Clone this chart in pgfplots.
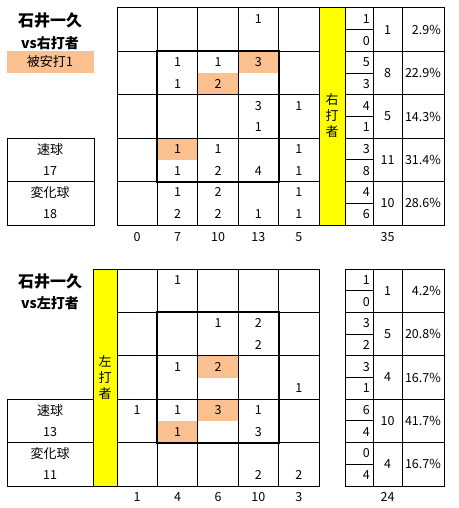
\documentclass[border=0pt]{standalone}
\usepackage{fontspec}
\setmainfont{Noto Sans CJK JP}
\usepackage{pgfplots}
\usepackage{pgfplotstable}
\pgfplotsset{compat=1.18}

\definecolor{hit}{HTML}{FAC090}
\definecolor{bar}{HTML}{FFFF00}
\newcommand\numfont{\fontsize{12.5}{14}\selectfont}

% cells: c = column (0..4), r = half row (0..9), v = count
\pgfplotstableread{
c r v
3 0 1
1 2 1
1 3 1
2 2 1
2 3 2
3 2 3
3 4 3
3 5 1
4 4 1
1 6 1
1 7 1
2 6 1
2 7 2
3 7 4
4 6 1
4 7 1
1 8 1
1 9 2
2 8 2
2 9 2
3 9 1
4 8 1
4 9 1
}\rightcells

\pgfplotstableread{
c r v
1 0 1
2 2 1
3 2 2
3 3 2
1 4 1
2 4 2
4 5 1
0 6 1
1 6 1
1 7 1
2 6 3
3 6 1
3 7 3
3 9 2
4 9 2
}\leftcells

% summary per row: upper, lower, total, percent
\pgfplotstableread{
k a b t p
0 1 0 1 2.9
1 5 3 8 22.9
2 4 1 5 14.3
3 3 8 11 31.4
4 4 6 10 28.6
}\rightsum

\pgfplotstableread{
k a b t p
0 1 0 1 4.2
1 3 2 5 20.8
2 3 1 4 16.7
3 6 4 10 41.7
4 0 4 4 16.7
}\leftsum

% column totals
\pgfplotstableread{
c v w
0 0 1
1 7 4
2 10 6
3 13 10
4 5 3
}\coltot

\pgfplotsset{
  lbl/.style={draw=none, mark=none, nodes near coords, point meta=explicit symbolic,
    nodes near coords align={#1},
    every node near coord/.append style={font=\numfont, inner sep=0pt, text=black}},
  lbl/.default=center,
}

% grid frame at vertical origin #1
\newcommand\gridframe[1]{%
  \pgfplotsinvokeforeach{1,...,4}{
    \draw[line width=1pt] (axis cs:117+40.4*##1,#1) -- (axis cs:117+40.4*##1,#1+217);
    \draw[line width=1pt] (axis cs:117,#1+43.4*##1) -- (axis cs:319,#1+43.4*##1);
    \draw[line width=1pt] (axis cs:345,#1+43.4*##1) -- (axis cs:444,#1+43.4*##1);
  }
  \pgfplotsinvokeforeach{0,...,4}{
    \draw[line width=1pt] (axis cs:345,#1+21.7+43.4*##1) -- (axis cs:373,#1+21.7+43.4*##1);
  }
  \draw[line width=1pt] (axis cs:117,#1) rectangle (axis cs:319,#1+217);
  \draw[line width=1pt] (axis cs:345,#1) rectangle (axis cs:444,#1+217);
  \draw[line width=1pt] (axis cs:373,#1) -- (axis cs:373,#1+217);
  \draw[line width=1pt] (axis cs:402,#1) -- (axis cs:402,#1+217);
  \draw[line width=2pt] (axis cs:157.4,#1+43.4) rectangle (axis cs:278.6,#1+173.6);
}

\begin{document}
\begin{tikzpicture}
\begin{axis}[
    width=458pt, height=508pt, scale only axis,
    xmin=0, xmax=458, ymin=0, ymax=508,
    y dir=reverse, hide axis, clip=false,
]
\path (axis cs:0,0) rectangle (axis cs:458,508);

% ---- vs right-handed batters
\fill[hit] (axis cs:7,51.4) rectangle (axis cs:94,73);
\fill[hit] (axis cs:238.2,51.4) rectangle (axis cs:278.6,73.1);
\fill[hit] (axis cs:197.8,73.1) rectangle (axis cs:238.2,94.8);
\fill[hit] (axis cs:157.4,138.2) rectangle (axis cs:197.8,159.9);
\filldraw[fill=bar, line width=1pt] (axis cs:319,8) rectangle (axis cs:345,225);
\gridframe{8}
\draw[line width=1pt] (axis cs:7,138.2) rectangle (axis cs:94,225);
\draw[line width=1pt] (axis cs:7,181.6) -- (axis cs:94,181.6);

\node[font=\bfseries\fontsize{16}{18}\selectfont] at (axis cs:50,20) {石井一久};
\node[font=\bfseries\fontsize{14}{16}\selectfont] at (axis cs:50,43) {vs右打者};
\node[font=\fontsize{13}{15}\selectfont] at (axis cs:50,62) {被安打1};
\node[font=\fontsize{13}{15}\selectfont] at (axis cs:50,149.5) {速球};
\node[font=\numfont] at (axis cs:50,171) {17};
\node[font=\fontsize{13}{15}\selectfont] at (axis cs:50,193) {変化球};
\node[font=\numfont] at (axis cs:50,214.5) {18};
\node[font=\fontsize{13}{16}\selectfont, align=center] at (axis cs:332,116) {右\\打\\者};

\addplot[lbl] table[x expr=137.2+40.4*\thisrow{c}, y expr=18.85+21.7*\thisrow{r}, meta=v] \rightcells;
\addplot[lbl=east] table[x expr=370, y expr=18.85+43.4*\thisrow{k}, meta=a] \rightsum;
\addplot[lbl=east] table[x expr=370, y expr=40.55+43.4*\thisrow{k}, meta=b] \rightsum;
\addplot[lbl] table[x expr=387.5, y expr=29.7+43.4*\thisrow{k}, meta=t] \rightsum;
\addplot[lbl=east, nodes near coords={\pgfplotspointmeta\%}] table[x expr=441, y expr=29.7+43.4*\thisrow{k}, meta=p] \rightsum;
\addplot[lbl] table[x expr=137.2+40.4*\thisrow{c}, y expr=237, meta=v] \coltot;
\addplot[lbl] coordinates {(387.5,237) [35]};

% ---- vs left-handed batters
\fill[hit] (axis cs:197.8,355.8) rectangle (axis cs:238.2,377.5);
\fill[hit] (axis cs:197.8,399.2) rectangle (axis cs:238.2,420.9);
\fill[hit] (axis cs:157.4,420.9) rectangle (axis cs:197.8,442.6);
\filldraw[fill=bar, line width=1pt] (axis cs:93,269) rectangle (axis cs:117,486);
\gridframe{269}
\draw[line width=1pt] (axis cs:7,399.2) rectangle (axis cs:93,486);
\draw[line width=1pt] (axis cs:7,442.6) -- (axis cs:93,442.6);

\node[font=\bfseries\fontsize{16}{18}\selectfont] at (axis cs:50,281) {石井一久};
\node[font=\bfseries\fontsize{14}{16}\selectfont] at (axis cs:50,303) {vs左打者};
\node[font=\fontsize{13}{15}\selectfont] at (axis cs:50,410.5) {速球};
\node[font=\numfont] at (axis cs:50,432) {13};
\node[font=\fontsize{13}{15}\selectfont] at (axis cs:50,454) {変化球};
\node[font=\numfont] at (axis cs:50,475.5) {11};
\node[font=\fontsize{13}{16}\selectfont, align=center] at (axis cs:105,378) {左\\打\\者};

\addplot[lbl] table[x expr=137.2+40.4*\thisrow{c}, y expr=279.85+21.7*\thisrow{r}, meta=v] \leftcells;
\addplot[lbl=east] table[x expr=370, y expr=279.85+43.4*\thisrow{k}, meta=a] \leftsum;
\addplot[lbl=east] table[x expr=370, y expr=301.55+43.4*\thisrow{k}, meta=b] \leftsum;
\addplot[lbl] table[x expr=387.5, y expr=290.7+43.4*\thisrow{k}, meta=t] \leftsum;
\addplot[lbl=east, nodes near coords={\pgfplotspointmeta\%}] table[x expr=441, y expr=290.7+43.4*\thisrow{k}, meta=p] \leftsum;
\addplot[lbl] table[x expr=137.2+40.4*\thisrow{c}, y expr=497, meta=w] \coltot;
\addplot[lbl] coordinates {(387.5,497) [24]};
\end{axis}
\end{tikzpicture}
\end{document}
